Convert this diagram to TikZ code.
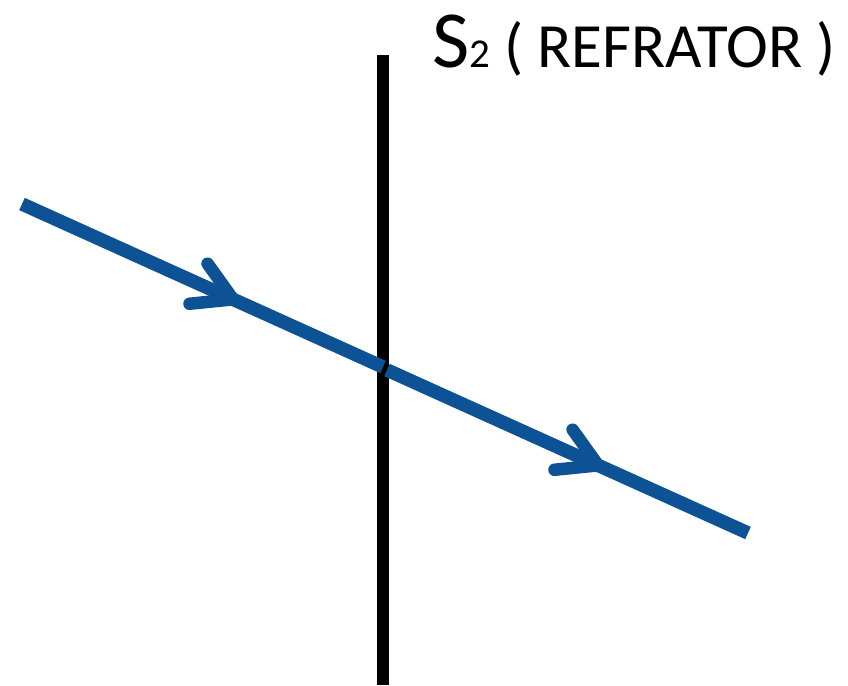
\documentclass[tikz,border=0pt]{standalone}
\usepackage{fontspec}
\setmainfont{Carlito}
\usetikzlibrary{decorations.markings}
\definecolor{azulraio}{RGB}{12,82,148}
\tikzset{
  raio/.style={azulraio,line width=13.5pt,
    postaction={decorate},
    decoration={markings,mark=at position 0.585 with
      {\draw[line width=12.5pt,line cap=round,line join=round]
        (-38pt,22pt) -- (0pt,0pt) -- (-38pt,-22pt);}}},
  superficie/.style={black,line width=12pt}
}
\begin{document}
\begin{tikzpicture}[x=1pt,y=-1pt]
    \useasboundingbox (0,0) rectangle (848,685);
    % superficie refratora S2
    \coordinate (Stop) at (383,55);\coordinate (Sbot) at (383,685);
    \draw[superficie] (Stop) -- (Sbot);
    \node[anchor=base west,inner sep=0pt] (rotulo) at (432,67)
      {\fontsize{81}{81}\selectfont S\fontsize{41}{41}\selectfont 2\fontsize{63}{63}\selectfont\ ( REFRATOR )};
    % raio incidente e raio refratado
    \coordinate (A) at (22,204);  \coordinate (B) at (383,367);
    \coordinate (C) at (387,370); \coordinate (D) at (748,533);
    \draw[raio] (A) -- (B);
    \draw[raio] (C) -- (D);
\end{tikzpicture}
\end{document}
